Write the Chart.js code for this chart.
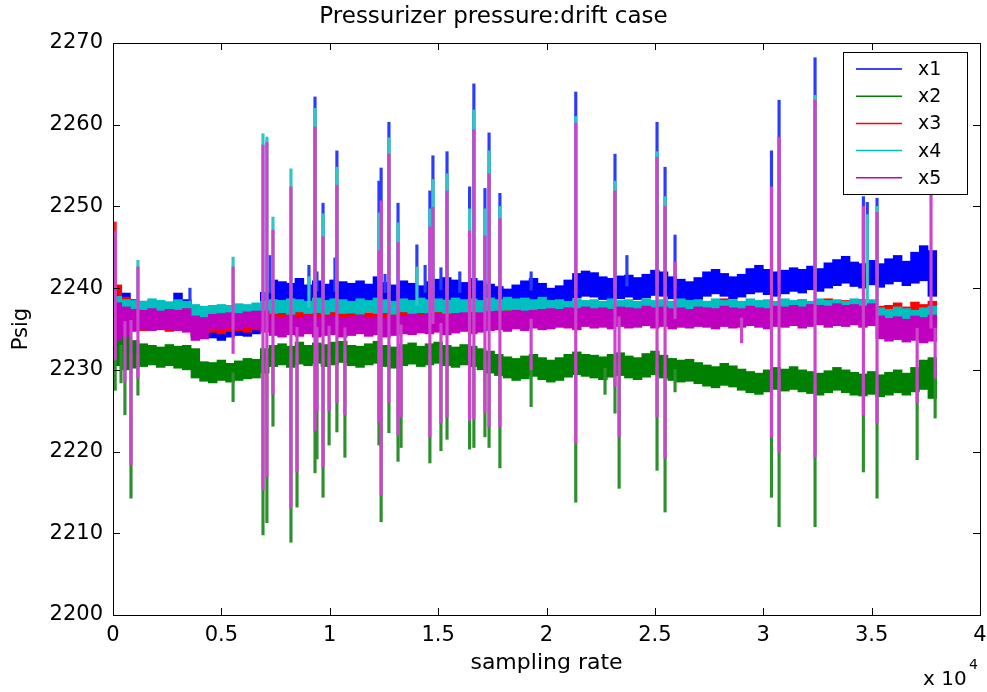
<!DOCTYPE html>
<html>
<head>
<meta charset="utf-8">
<title>Pressurizer pressure:drift case</title>
<script src="https://cdn.jsdelivr.net/npm/chart.js@4.4.0/dist/chart.umd.min.js"></script>
<style>
  html, body { margin: 0; padding: 0; background: #fff; }
  canvas { display: block; }
</style>
</head>
<body>
<canvas id="myChart" width="987" height="692"></canvas>
<script>
// series names / colours (MATLAB default order)
const seriesNames = ['x1', 'x2', 'x3', 'x4', 'x5'];
const seriesColors = ['#0000ff', '#008000', '#ff0000', '#00bfbf', '#bf00bf'];
// thin spike lines come out a bit lighter in the reference (anti-aliased)
const spikeColors = ['#2a3cff', '#2e8f2e', '#ff2020', '#30c6c6', '#cc44cc'];

// tick values and labels
const xTickValues = [0, 5000, 10000, 15000, 20000, 25000, 30000, 35000, 40000];
const xTickLabels = ['0', '0.5', '1', '1.5', '2', '2.5', '3', '3.5', '4'];
const yTickValues = [2200, 2210, 2220, 2230, 2240, 2250, 2260, 2270];

// each band entry = [min, max] of the signal inside one block of 400 samples
const binWidth = 400;

const x1Band = [
  [2236.8,2240.3],[2236.5,2239.4],[2236.2,2238.6],[2236.0,2238.4],[2236.1,2238.2],
  [2235.9,2238.0],[2236.0,2238.3],[2235.8,2239.4],[2235.9,2238.6],[2234.0,2237.0],
  [2233.8,2236.0],[2233.9,2236.2],[2233.6,2235.9],[2234.0,2236.3],[2234.2,2236.4],
  [2234.1,2236.5],[2234.4,2236.8],[2235.5,2239.5],[2237.8,2241.0],[2238.2,2240.8],
  [2238.0,2240.6],[2238.3,2241.2],[2238.1,2240.4],[2238.4,2240.9],[2238.0,2240.5],
  [2238.2,2241.0],[2238.4,2240.8],[2238.1,2240.6],[2238.3,2240.9],[2238.0,2240.5],
  [2238.4,2241.4],[2238.2,2240.7],[2237.9,2240.4],[2238.3,2240.9],[2238.1,2240.6],
  [2237.8,2240.3],[2238.2,2240.8],[2238.5,2241.1],[2238.6,2241.3],[2238.4,2241.0],
  [2238.2,2240.7],[2238.5,2241.2],[2238.3,2240.9],[2237.9,2240.5],[2237.7,2240.2],
  [2237.4,2239.9],[2237.6,2240.4],[2238.0,2240.9],[2238.3,2241.2],[2237.9,2240.6],
  [2237.5,2240.0],[2237.7,2240.3],[2238.3,2241.0],[2238.8,2241.8],[2239.0,2242.1],
  [2238.9,2241.9],[2238.6,2241.4],[2238.4,2241.2],[2238.7,2241.5],[2238.9,2241.6],
  [2238.6,2241.3],[2238.8,2241.7],[2239.1,2242.2],[2239.0,2242.0],[2238.7,2241.4],
  [2238.5,2241.1],[2238.3,2240.8],[2238.6,2241.3],[2239.0,2242.0],[2239.3,2242.3],
  [2239.0,2241.8],[2238.7,2241.4],[2238.9,2241.7],[2239.3,2242.4],[2239.5,2242.8],
  [2239.2,2242.3],[2239.0,2242.0],[2239.3,2242.2],[2239.6,2242.5],[2239.4,2242.3],
  [2239.8,2242.7],[2239.6,2242.4],[2240.0,2243.1],[2240.3,2243.5],[2240.6,2243.9],
  [2240.2,2243.2],[2240.0,2243.0],[2240.4,2243.4],[2240.1,2243.0],[2240.5,2243.6],
  [2240.8,2244.0],[2240.3,2243.3],[2240.6,2244.4],[2240.9,2245.2],[2239.0,2244.6]
];

const x2Band = [
  [2230.5,2235.5],[2230.0,2234.2],[2230.2,2233.6],[2230.4,2233.2],[2230.6,2233.0],
  [2230.3,2232.8],[2230.5,2233.1],[2230.2,2232.9],[2230.0,2233.0],[2229.0,2232.6],
  [2228.6,2231.0],[2228.4,2230.9],[2228.7,2231.2],[2228.5,2230.8],[2228.7,2231.1],
  [2228.9,2231.4],[2229.0,2231.3],[2229.6,2232.6],[2230.4,2233.0],[2230.6,2233.2],
  [2230.3,2232.9],[2230.7,2233.4],[2230.5,2233.0],[2230.8,2233.3],[2230.4,2233.1],
  [2230.6,2233.4],[2230.9,2233.5],[2230.5,2233.0],[2230.3,2232.9],[2230.6,2233.2],
  [2230.8,2233.5],[2230.4,2233.0],[2230.2,2232.8],[2230.5,2233.1],[2230.7,2233.3],
  [2230.4,2232.9],[2230.6,2233.2],[2230.8,2233.4],[2230.5,2233.0],[2230.3,2232.8],
  [2230.6,2233.1],[2230.4,2232.9],[2230.0,2232.6],[2229.6,2232.3],[2229.3,2231.9],
  [2229.0,2231.6],[2228.7,2231.4],[2228.9,2231.7],[2229.2,2231.9],[2228.8,2231.5],
  [2228.5,2231.2],[2228.7,2231.5],[2229.1,2231.9],[2229.4,2232.2],[2229.2,2231.9],
  [2229.0,2231.8],[2228.8,2231.6],[2229.1,2231.9],[2229.3,2232.1],[2229.0,2231.7],
  [2228.8,2231.5],[2229.1,2232.0],[2229.4,2232.3],[2229.0,2231.8],[2228.7,2231.4],
  [2228.5,2231.2],[2228.6,2231.3],[2228.3,2230.9],[2228.0,2230.6],[2227.8,2230.4],
  [2228.1,2230.8],[2227.9,2230.5],[2227.5,2230.1],[2227.2,2229.8],[2227.0,2229.6],
  [2227.3,2230.0],[2227.6,2230.3],[2227.4,2230.1],[2227.6,2230.4],[2227.3,2230.0],
  [2227.1,2229.8],[2226.9,2229.6],[2227.2,2229.9],[2227.5,2230.3],[2227.2,2230.0],
  [2226.9,2229.7],[2226.8,2229.5],[2227.0,2229.8],[2226.7,2229.4],[2226.9,2229.7],
  [2227.2,2230.0],[2226.9,2229.6],[2227.3,2230.3],[2227.6,2231.2],[2226.5,2231.5]
];

const x3Band = [
  [2235.2,2240.4],[2235.0,2238.9],[2234.9,2237.3],[2234.8,2237.1],[2235.0,2237.4],
  [2234.9,2237.2],[2234.7,2237.0],[2234.9,2237.3],[2234.8,2237.1],[2234.3,2236.6],
  [2234.5,2235.9],[2234.6,2236.2],[2234.4,2236.0],[2234.7,2236.3],[2234.8,2236.4],
  [2234.6,2236.2],[2234.9,2236.6],[2235.4,2237.0],[2236.0,2237.1],[2236.1,2237.0],
  [2235.9,2237.2],[2236.2,2237.1],[2236.0,2236.9],[2236.1,2237.2],[2235.9,2237.0],
  [2236.0,2237.3],[2236.2,2237.1],[2235.9,2236.9],[2236.1,2237.2],[2236.0,2237.0],
  [2236.2,2237.3],[2235.9,2237.1],[2236.0,2236.9],[2236.1,2237.2],[2236.2,2237.3],
  [2236.0,2237.1],[2236.1,2237.0],[2235.9,2237.2],[2236.2,2237.3],[2236.0,2237.1],
  [2236.1,2237.2],[2236.3,2237.4],[2236.1,2237.3],[2236.2,2237.5],[2236.4,2237.6],
  [2236.3,2237.5],[2236.2,2237.4],[2236.4,2237.7],[2236.3,2237.6],[2236.2,2237.5],
  [2235.8,2237.6],[2236.0,2237.9],[2235.9,2237.7],[2235.7,2237.8],[2236.0,2238.0],
  [2235.8,2237.7],[2236.1,2237.9],[2235.9,2238.1],[2235.6,2237.8],[2236.0,2237.9],
  [2235.8,2238.2],[2236.1,2238.0],[2235.9,2237.8],[2235.7,2238.1],[2236.0,2238.3],
  [2235.8,2237.9],[2236.1,2238.2],[2235.9,2238.0],[2235.6,2237.8],[2236.0,2238.4],
  [2235.8,2238.7],[2236.1,2238.2],[2235.9,2238.0],[2235.7,2238.3],[2236.0,2238.1],
  [2235.8,2238.4],[2236.1,2238.2],[2236.0,2238.5],[2235.8,2238.3],[2236.1,2238.6],
  [2235.9,2238.2],[2236.2,2238.4],[2236.0,2238.7],[2235.8,2238.3],[2236.1,2238.5],
  [2235.9,2238.2],[2236.2,2238.6],[2236.0,2238.4],[2235.6,2237.8],[2235.5,2237.9],
  [2235.7,2238.2],[2235.4,2237.7],[2235.6,2238.3],[2235.8,2238.0],[2235.3,2238.4]
];

const x4Band = [
  [2236.4,2239.0],[2236.7,2238.6],[2236.8,2238.5],[2236.9,2238.4],[2236.7,2238.7],
  [2236.8,2238.5],[2236.9,2238.3],[2236.7,2238.6],[2236.8,2238.4],[2236.1,2238.0],
  [2236.3,2237.8],[2236.4,2237.9],[2236.3,2238.0],[2236.5,2237.9],[2236.4,2238.1],
  [2236.6,2238.0],[2236.5,2238.2],[2236.6,2238.4],[2236.9,2238.6],[2237.0,2238.5],
  [2236.8,2238.7],[2237.1,2238.6],[2236.9,2238.4],[2237.0,2238.8],[2236.8,2238.5],
  [2237.1,2238.7],[2236.9,2238.6],[2237.0,2238.4],[2236.8,2238.7],[2237.1,2238.5],
  [2236.9,2238.8],[2237.0,2238.6],[2236.8,2238.4],[2237.1,2238.7],[2236.9,2238.5],
  [2237.0,2238.8],[2236.8,2238.6],[2237.1,2238.7],[2236.9,2238.5],[2237.0,2238.8],
  [2236.8,2238.6],[2237.1,2238.7],[2236.9,2238.5],[2237.2,2238.8],[2237.0,2238.6],
  [2237.3,2238.9],[2237.1,2238.7],[2237.2,2238.8],[2237.0,2238.6],[2237.3,2238.9],
  [2237.2,2238.5],[2237.4,2238.6],[2237.3,2238.4],[2237.5,2238.7],[2237.3,2238.5],
  [2237.4,2238.6],[2237.2,2238.4],[2237.5,2238.7],[2237.3,2238.5],[2237.4,2238.6],
  [2237.2,2238.4],[2237.5,2238.7],[2237.3,2238.5],[2237.4,2238.6],[2237.2,2238.4],
  [2237.5,2238.7],[2237.3,2238.5],[2237.4,2238.6],[2237.2,2238.4],[2237.5,2238.7],
  [2237.3,2238.5],[2237.4,2238.6],[2237.2,2238.4],[2237.5,2238.7],[2237.3,2238.5],
  [2237.4,2238.6],[2237.2,2238.4],[2237.5,2238.7],[2237.3,2238.5],[2237.4,2238.6],
  [2237.2,2238.4],[2237.5,2238.7],[2237.3,2238.5],[2237.4,2238.6],[2237.2,2238.4],
  [2237.5,2238.7],[2237.3,2238.5],[2237.4,2238.6],[2235.8,2237.6],[2235.6,2237.4],
  [2235.9,2237.7],[2235.7,2237.5],[2235.8,2237.3],[2235.6,2237.6],[2235.9,2237.8]
];

const x5Band = [
  [2233.6,2238.2],[2234.1,2237.7],[2234.7,2237.4],[2234.9,2237.3],[2234.8,2237.5],
  [2235.0,2237.2],[2234.9,2237.4],[2234.8,2237.3],[2234.6,2237.5],[2233.6,2236.6],
  [2233.8,2236.4],[2234.9,2236.8],[2235.0,2236.9],[2235.1,2237.0],[2235.0,2236.9],
  [2235.2,2237.1],[2235.1,2237.2],[2234.6,2237.2],[2234.2,2236.5],[2234.0,2236.4],
  [2234.3,2236.6],[2234.1,2236.3],[2234.4,2236.7],[2234.0,2236.4],[2234.2,2236.5],
  [2234.3,2236.6],[2234.0,2236.3],[2234.2,2236.5],[2234.4,2236.7],[2234.1,2236.4],
  [2234.3,2236.5],[2234.0,2236.3],[2234.2,2236.6],[2234.4,2236.6],[2234.3,2236.8],
  [2234.5,2236.7],[2234.4,2236.9],[2234.6,2236.8],[2234.3,2236.7],[2234.5,2236.9],
  [2234.7,2237.0],[2234.4,2236.8],[2234.6,2237.0],[2234.8,2237.1],[2234.9,2237.2],
  [2234.7,2237.1],[2235.0,2237.3],[2234.8,2237.2],[2235.1,2237.3],[2234.9,2237.4],
  [2235.0,2237.5],[2235.2,2237.4],[2235.1,2237.6],[2234.9,2237.5],[2235.3,2237.7],
  [2235.1,2237.5],[2235.2,2237.6],[2235.0,2237.4],[2235.3,2237.7],[2235.1,2237.6],
  [2235.2,2237.5],[2235.4,2237.8],[2235.1,2237.6],[2235.3,2237.7],[2235.0,2237.5],
  [2235.2,2237.6],[2235.1,2237.4],[2235.3,2237.7],[2235.2,2237.6],[2235.0,2237.5],
  [2235.3,2237.8],[2235.1,2237.6],[2235.2,2237.5],[2235.4,2237.8],[2235.2,2237.6],
  [2235.0,2237.5],[2235.3,2237.8],[2235.2,2237.7],[2235.4,2237.9],[2235.1,2237.7],
  [2235.3,2238.0],[2235.5,2237.9],[2235.2,2237.8],[2235.4,2238.1],[2235.3,2237.9],
  [2235.5,2238.0],[2235.2,2237.8],[2235.4,2238.1],[2233.8,2236.6],[2233.5,2236.3],
  [2233.7,2236.5],[2233.4,2236.2],[2233.6,2236.6],[2233.3,2236.4],[2233.5,2236.7]
];

// transient spikes: sample index, then tip value of each signal (null = no visible tip)
const spikeSamples = [
  100, 370, 550, 830, 1150, 3550, 5540, 6920, 7100, 7240,
  7380, 8210, 8490, 9040, 9320, 9410, 9690, 9970, 10240, 10330,
  10700, 12270, 12370, 12550, 12730, 13150, 13290, 14020, 14400, 14620,
  14760, 15130, 15410, 16000, 16450, 16650, 17160, 17350, 17850, 19290,
  21350, 22700, 23160, 23350, 23710, 25100, 25470, 25930, 29000, 30380,
  30730, 32390, 34620, 34800, 35250, 37100, 37740, 37930
];
const x1SpikeTop = [
  null, null, null, null, null, 2240.0, null, null, null, 2244.0,
  null, null, null, 2242.8, 2263.4, 2242.0, 2250.4, null, 2243.7, 2256.8,
  null, 2253.1, 2254.7, 2241.7, 2260.3, 2250.4, null, 2245.3, 2242.8, 2251.9,
  2256.2, 2242.5, 2256.7, 2242.0, 2252.4, 2265.0, 2252.2, 2259.0, 2251.6, 2242.0,
  2264.0, null, 2256.4, null, 2244.0, 2260.3, 2254.8, 2246.5, null, 2256.8,
  2263.0, 2268.2, 2251.2, 2250.5, 2251.0, null, null, null
];
const x2SpikeBottom = [
  2227.5, 2228.4, 2224.5, 2214.3, 2226.9, null, 2226.1, 2209.8, 2211.3, null,
  2223.1, 2208.9, 2213.2, null, 2217.4, 2219.1, 2214.4, 2220.8, null, 2222.4,
  2219.3, 2220.8, 2211.4, null, 2222.3, 2218.8, 2220.5, null, null, 2218.6,
  null, 2220.1, 2221.5, null, 2220.3, 2220.5, 2221.8, 2220.5, 2218.0, 2225.5,
  2213.8, 2227.0, 2224.7, 2215.5, null, 2217.7, 2212.6, 2227.3, null, 2214.4,
  2210.8, 2210.8, 2217.5, null, 2214.3, 2219.0, null, 2224.1
];
const x3SpikeTop = [2248.1]; // only the start-up transient shows in red
const x4SpikeTop = [
  null, null, null, null, 2243.4, null, 2243.8, 2258.9, 2258.5, null,
  2248.7, 2254.6, null, 2241.4, 2262.0, null, 2249.1, null, null, 2254.8,
  null, 2249.2, null, null, 2258.4, 2248.0, null, 2242.6, null, 2249.7,
  2253.3, null, 2254.0, null, 2249.7, 2261.8, 2249.7, 2256.8, 2250.0, null,
  2261.0, null, 2253.1, null, null, 2256.7, 2251.2, null, null, null,
  null, 2263.6, null, 2249.0, 2250.0, null, null, null
];
const x5SpikeTop = [
  2247.0, null, null, null, 2242.6, null, 2242.6, 2257.5, 2257.8, null,
  2247.1, 2252.4, null, null, 2259.7, null, 2246.3, null, null, 2252.6,
  null, 2244.6, 2250.7, null, 2256.4, 2245.6, null, null, null, 2247.5,
  2249.9, null, 2251.9, null, 2247.0, 2259.4, 2246.4, 2254.0, 2248.5, null,
  2260.2, null, 2251.9, null, null, 2256.0, 2250.0, 2243.2, null, 2252.4,
  2258.5, 2263.0, 2250.0, null, 2249.3, null, 2254.0, null
];
const x5SpikeBottom = [
  2231.2, null, 2228.5, 2218.4, 2229.0, null, 2232.0, 2215.3, 2216.9, null,
  2227.0, 2213.1, 2217.5, null, 2222.6, 2225.0, 2218.1, 2225.0, null, 2226.0,
  2224.5, 2223.6, 2214.7, null, 2226.0, 2222.0, 2224.2, null, null, 2221.8,
  null, 2223.5, 2224.2, null, 2223.8, 2224.0, 2224.8, 2223.0, 2223.0, 2230.0,
  2221.0, null, 2228.0, 2221.8, null, 2224.2, 2219.2, null, 2233.3, 2221.8,
  2219.9, 2219.3, 2224.5, null, 2223.5, 2226.0, null, 2229.0
];

const bands = [x1Band, x2Band, x3Band, x4Band, x5Band];
const spikeTops = [x1SpikeTop, null, x3SpikeTop, x4SpikeTop, x5SpikeTop];
const spikeBottoms = [null, x2SpikeBottom, null, null, x5SpikeBottom];

function bandData(band) {
  return band.map((r, i) => ({ x: i * binWidth + binWidth / 2, y: r }));
}

function bandMid(band, s) {
  const r = band[Math.min(band.length - 1, Math.floor(s / binWidth))];
  return (r[0] + r[1]) / 2;
}

function spikeData(band, tops, bottoms) {
  const out = [];
  spikeSamples.forEach((s, k) => {
    const top = tops ? tops[k] : null;
    const bot = bottoms ? bottoms[k] : null;
    if (top == null && bot == null) return;
    const mid = bandMid(band, s);
    out.push({ x: s, y: [bot == null ? mid : bot, top == null ? mid : top] });
  });
  return out;
}

// x1 is drawn first (bottom), x5 last (top), like the plot order in MATLAB
const datasets = [];
seriesNames.forEach((name, k) => {
  datasets.push({
    label: name,
    data: bandData(bands[k]),
    backgroundColor: seriesColors[k],
    borderWidth: 0,
    barThickness: 8.8,
    grouped: false,
    order: 10 - 2 * k
  });
  datasets.push({
    label: name + ' spikes',
    data: spikeData(bands[k], spikeTops[k], spikeBottoms[k]),
    backgroundColor: spikeColors[k],
    borderWidth: 0,
    barThickness: 2.5,
    grouped: false,
    order: 9 - 2 * k
  });
});

// box, inward ticks on all sides, legend and the x10^4 exponent
const matlabAxes = {
  id: 'matlabAxes',
  afterDraw(chart) {
    const { ctx, chartArea: a, scales } = chart;
    ctx.save();
    ctx.strokeStyle = '#000';
    ctx.lineWidth = 1;
    ctx.beginPath();
    scales.x.ticks.forEach(t => {
      const px = Math.round(scales.x.getPixelForValue(t.value)) + 0.5;
      ctx.moveTo(px, a.bottom); ctx.lineTo(px, a.bottom - 7);
      ctx.moveTo(px, a.top); ctx.lineTo(px, a.top + 7);
    });
    scales.y.ticks.forEach(t => {
      const py = Math.round(scales.y.getPixelForValue(t.value)) + 0.5;
      ctx.moveTo(a.left, py); ctx.lineTo(a.left + 7, py);
      ctx.moveTo(a.right, py); ctx.lineTo(a.right - 7, py);
    });
    ctx.stroke();
    ctx.strokeRect(Math.round(a.left) + 0.5, Math.round(a.top) + 0.5,
      Math.round(a.right - a.left), Math.round(a.bottom - a.top));

    // legend
    const lx = Math.round(a.right) - 137, ly = Math.round(a.top) + 9, lw = 124, lh = 142;
    ctx.fillStyle = '#fff';
    ctx.fillRect(lx, ly, lw, lh);
    ctx.strokeStyle = '#000';
    ctx.strokeRect(lx + 0.5, ly + 0.5, lw, lh);
    ctx.font = '19px "DejaVu Sans"';
    ctx.textAlign = 'left';
    ctx.textBaseline = 'middle';
    seriesNames.forEach((name, i) => {
      const y = ly + 17 + i * 27.2;
      ctx.strokeStyle = seriesColors[i];
      ctx.lineWidth = 1.5;
      ctx.beginPath();
      ctx.moveTo(lx + 13, y);
      ctx.lineTo(lx + 59, y);
      ctx.stroke();
      ctx.fillStyle = '#000';
      ctx.fillText(name, lx + 75, y + 1);
    });

    // exponent of the x axis
    ctx.fillStyle = '#000';
    ctx.textBaseline = 'alphabetic';
    ctx.font = '20px "DejaVu Sans"';
    ctx.fillText('x 10', a.right - 57, 685);
    ctx.font = '14px "DejaVu Sans"';
    ctx.fillText('4', a.right - 11, 669);
    ctx.restore();
  }
};

Chart.defaults.font.family = '"DejaVu Sans"';
Chart.defaults.color = '#000';

const ctx = document.getElementById('myChart').getContext('2d');
new Chart(ctx, {
  type: 'bar',
  data: { datasets: datasets },
  options: {
    responsive: false,
    animation: false,
    devicePixelRatio: 1,
    layout: { padding: { left: 0, right: 0, top: 0, bottom: 0 } },
    plugins: {
      legend: { display: false },
      tooltip: { enabled: false },
      title: {
        display: true,
        text: 'Pressurizer pressure:drift case',
        color: '#000',
        font: { size: 23, weight: 'normal', lineHeight: 1.2 },
        padding: { top: 3, bottom: 12.4 }
      }
    },
    scales: {
      x: {
        type: 'linear',
        min: 0,
        max: 40000,
        offset: false,
        grid: { display: false, drawTicks: false },
        border: { display: false },
        afterBuildTicks(scale) { scale.ticks = xTickValues.map(v => ({ value: v })); },
        afterFit(scale) {
          scale.height = 77;
          scale.paddingLeft = 0;
          scale.paddingRight = 7;
        },
        ticks: {
          autoSkip: false,
          maxRotation: 0,
          padding: 8,
          font: { size: 21 },
          callback: (v, i) => xTickLabels[i]
        },
        title: {
          display: true,
          text: 'sampling rate',
          font: { size: 22 },
          padding: { top: 0, bottom: 15.8 }
        }
      },
      y: {
        min: 2200,
        max: 2270,
        beginAtZero: false,
        grid: { display: false, drawTicks: false },
        border: { display: false },
        afterBuildTicks(scale) { scale.ticks = yTickValues.map(v => ({ value: v })); },
        afterFit(scale) {
          scale.width = 113;
          scale.paddingTop = 0;
          scale.paddingBottom = 0;
        },
        ticks: {
          autoSkip: false,
          padding: 10,
          font: { size: 21 },
          callback: v => String(v)
        },
        title: {
          display: true,
          text: 'Psig',
          font: { size: 21 },
          padding: { top: 9, bottom: 0 }
        }
      }
    }
  },
  plugins: [matlabAxes]
});
</script>
</body>
</html>
